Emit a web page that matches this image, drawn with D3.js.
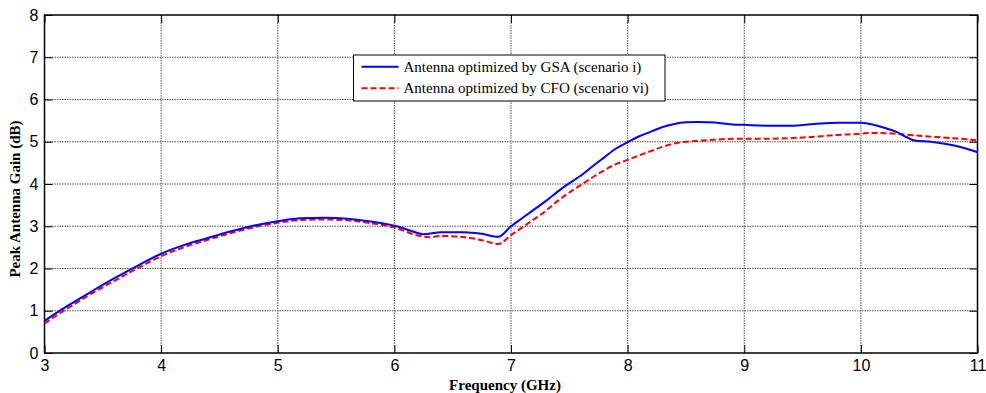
<!DOCTYPE html>
<html>
<head>
<meta charset="utf-8">
<script src="https://cdn.jsdelivr.net/npm/d3@7"></script>
<style>
  body { margin: 0; background: #fff; }
  svg { display: block; }
</style>
</head>
<body>
<svg id="chart" width="986" height="393"></svg>
<script>
// peak gain (GHz, dB)
var gsaFreq = [3.0, 3.2, 3.4, 3.6, 3.8, 4.0, 4.2, 4.4, 4.6, 4.8, 5.0, 5.2, 5.4, 5.6, 5.8, 6.0, 6.1, 6.2, 6.25,
    6.4, 6.6, 6.75, 6.89, 7.0, 7.1, 7.2, 7.3, 7.4, 7.5, 7.6, 7.7, 7.8, 7.9, 8.0, 8.1, 8.2, 8.3, 8.4, 8.5,
    8.6, 8.7, 8.8, 8.9, 9.0, 9.2, 9.4, 9.6, 9.8, 10.0, 10.1, 10.2, 10.3, 10.4, 10.46, 10.6, 10.8, 10.9, 11.0];
var gsaGain = [0.76, 1.12, 1.45, 1.77, 2.07, 2.35, 2.56, 2.72, 2.88, 3.02, 3.12, 3.19, 3.2, 3.18, 3.11, 3.01, 2.93, 2.84, 2.81,
    2.86, 2.86, 2.82, 2.75, 3.0, 3.2, 3.4, 3.6, 3.82, 4.02, 4.2, 4.42, 4.63, 4.84, 4.99, 5.13, 5.24, 5.35, 5.42, 5.46,
    5.47, 5.46, 5.44, 5.41, 5.40, 5.38, 5.38, 5.42, 5.45, 5.45, 5.41, 5.33, 5.24, 5.10, 5.03, 5.00, 4.91, 4.84, 4.75];

var cfoFreq = [3.0, 3.2, 3.4, 3.6, 3.8, 4.0, 4.2, 4.4, 4.6, 4.8, 5.0, 5.2, 5.4, 5.6, 5.8, 6.0, 6.2, 6.3,
    6.4, 6.6, 6.75, 6.89, 7.0, 7.1, 7.2, 7.3, 7.4, 7.5, 7.6, 7.7, 7.8, 7.9, 8.0, 8.1, 8.2, 8.3, 8.4, 8.5,
    8.7, 8.9, 9.2, 9.5, 9.8, 10.0, 10.1, 10.3, 10.5, 10.7, 10.9, 11.0];
var cfoGain = [0.70, 1.06, 1.40, 1.71, 2.01, 2.29, 2.51, 2.68, 2.84, 2.98, 3.08, 3.15, 3.16, 3.14, 3.07, 2.97, 2.78, 2.74,
    2.77, 2.74, 2.67, 2.58, 2.79, 2.98, 3.17, 3.37, 3.6, 3.80, 3.98, 4.16, 4.33, 4.47, 4.57, 4.68, 4.78, 4.88, 4.96, 5.0,
    5.04, 5.07, 5.07, 5.10, 5.16, 5.19, 5.21, 5.19, 5.14, 5.10, 5.06, 5.03];

var xTicks = [3, 4, 5, 6, 7, 8, 9, 10, 11];
var yTicks = [0, 1, 2, 3, 4, 5, 6, 7, 8];
var legendLabels = ["Antenna optimized by GSA (scenario i)", "Antenna optimized by CFO (scenario vi)"];

var margin = {top: 15, right: 8.5, bottom: 40, left: 44.5};
var width = 986, height = 393;
var svg = d3.select("#chart");

var xScale = d3.scaleLinear()
    .domain([3, 11])
    .range([margin.left, width - margin.right]);
var yScale = d3.scaleLinear()
    .domain([0, 8])
    .range([height - margin.bottom, margin.top]);

var x0 = xScale.range()[0], x1 = xScale.range()[1];
var y0 = yScale.range()[0], y1 = yScale.range()[1];

// dotted grid
var grid = svg.append("g");
grid.selectAll(".gx").data(xTicks.slice(1, -1)).enter().append("line")
    .attr("x1", function (d) { return xScale(d); })
    .attr("x2", function (d) { return xScale(d); })
    .attr("y1", y1).attr("y2", y0)
    .attr("stroke", "#555").attr("stroke-width", 1).attr("stroke-dasharray", "1.5,1");
grid.selectAll(".gy").data(yTicks.slice(1, -1)).enter().append("line")
    .attr("x1", x0).attr("x2", x1)
    .attr("y1", function (d) { return yScale(d); })
    .attr("y2", function (d) { return yScale(d); })
    .attr("stroke", "#555").attr("stroke-width", 1).attr("stroke-dasharray", "1.5,1");

// axes, ticks pointing inward like matlab
var tickLen = 8;
var xAxis = d3.axisBottom(xScale).tickValues(xTicks).tickSize(-tickLen).tickPadding(7).tickFormat(d3.format("d"));
var xAxisTop = d3.axisTop(xScale).tickValues(xTicks).tickSize(-tickLen).tickFormat("");
var yAxis = d3.axisLeft(yScale).tickValues(yTicks).tickSize(-tickLen).tickPadding(6).tickFormat(d3.format("d"));
var yAxisRight = d3.axisRight(yScale).tickValues(yTicks).tickSize(-tickLen).tickFormat("");

function styleAxis(g) {
    g.select(".domain").remove();
    g.selectAll(".tick line").attr("stroke", "#000").attr("stroke-width", 1);
    g.selectAll(".tick text")
        .attr("font-family", "Liberation Sans, Arial, sans-serif")
        .attr("font-size", 16)
        .attr("fill", "#000");
}

svg.append("g").attr("transform", "translate(0," + y0 + ")").call(xAxis).call(styleAxis);
svg.append("g").attr("transform", "translate(0," + y1 + ")").call(xAxisTop).call(styleAxis);
svg.append("g").attr("transform", "translate(" + x0 + ",0)").call(yAxis).call(styleAxis);
svg.append("g").attr("transform", "translate(" + x1 + ",0)").call(yAxisRight).call(styleAxis);

// box
svg.append("rect")
    .attr("x", x0).attr("y", y1)
    .attr("width", x1 - x0).attr("height", y0 - y1)
    .attr("fill", "none").attr("stroke", "#000").attr("stroke-width", 1.5);

// curves
var line = d3.line()
    .x(function (d) { return xScale(d[0]); })
    .y(function (d) { return yScale(d[1]); })
    .curve(d3.curveMonotoneX);

svg.append("path")
    .datum(d3.zip(cfoFreq, cfoGain))
    .attr("d", line)
    .attr("fill", "none").attr("stroke", "#ff0000").attr("stroke-width", 2)
    .attr("stroke-dasharray", "6,3");

svg.append("path")
    .datum(d3.zip(gsaFreq, gsaGain))
    .attr("d", line)
    .attr("fill", "none").attr("stroke", "#0000ff").attr("stroke-width", 2);

// axis labels
svg.append("text")
    .attr("x", 505).attr("y", 390)
    .attr("text-anchor", "middle")
    .attr("font-family", "Liberation Serif, Times New Roman, serif")
    .attr("font-weight", "bold").attr("font-size", 15)
    .text("Frequency (GHz)");

svg.append("text")
    .attr("transform", "translate(20,199) rotate(-90)")
    .attr("text-anchor", "middle")
    .attr("font-family", "Liberation Serif, Times New Roman, serif")
    .attr("font-weight", "bold").attr("font-size", 15)
    .text("Peak Antenna Gain (dB)");

// legend
var legend = svg.append("g").attr("transform", "translate(353.5,55)");
legend.append("rect")
    .attr("width", 311.5).attr("height", 46)
    .attr("fill", "#fff").attr("stroke", "#000").attr("stroke-width", 1);
var styles = [{c: "#0000ff", dash: null}, {c: "#ff0000", dash: "6,3"}];
legendLabels.forEach(function (label, i) {
    var ly = 11.7 + i * 21.6;
    legend.append("line")
        .attr("x1", 8).attr("x2", 45)
        .attr("y1", ly).attr("y2", ly)
        .attr("stroke", styles[i].c).attr("stroke-width", 2)
        .attr("stroke-dasharray", styles[i].dash);
    legend.append("text")
        .attr("x", 50).attr("y", ly + 5)
        .attr("font-family", "Liberation Serif, Times New Roman, serif")
        .attr("font-size", 15)
        .text(label);
});
</script>
</body>
</html>
